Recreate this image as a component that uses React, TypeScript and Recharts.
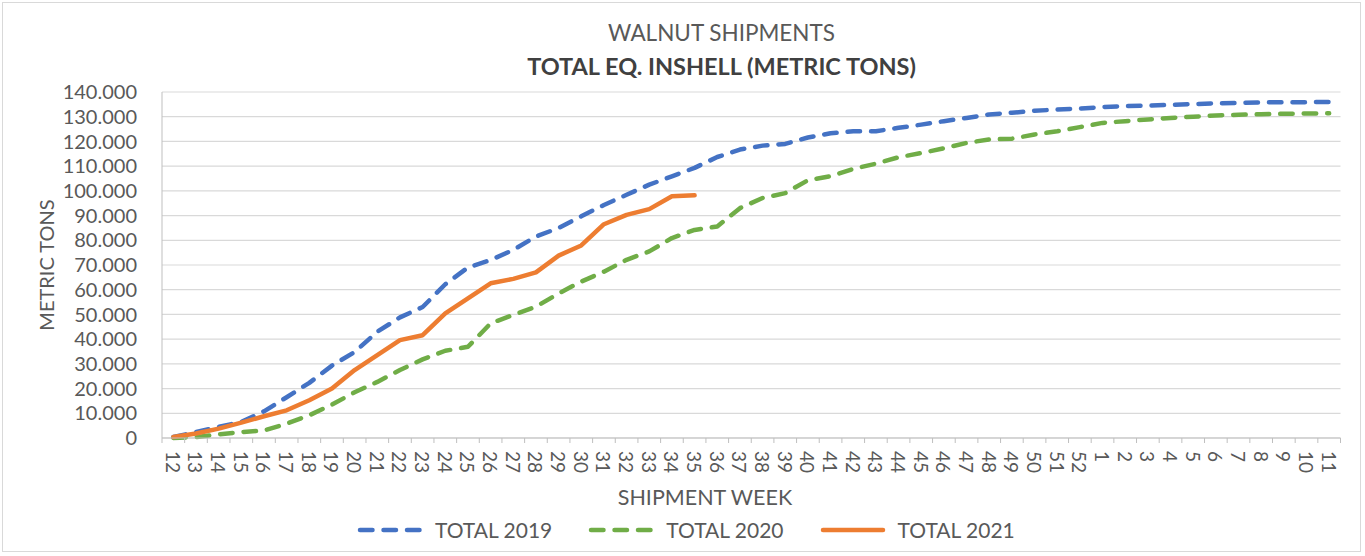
import React from 'react'
import { LineChart, Line, XAxis, YAxis, CartesianGrid } from 'recharts'

const weeks = [
  '12', '13', '14', '15', '16', '17', '18', '19', '20', '21', '22', '23', '24', '25', '26', '27', '28', '29', '30', '31',
  '32', '33', '34', '35', '36', '37', '38', '39', '40', '41', '42', '43', '44', '45', '46', '47', '48', '49', '50', '51',
  '52', '1', '2', '3', '4', '5', '6', '7', '8', '9', '10', '11',
]

const total2019 = [
  400, 2400, 4500, 6500, 10800, 16500, 22300, 29300, 34800, 43000, 48800, 53000, 62200, 69000, 72000, 76100, 81500, 85000, 89700, 94300,
  98400, 102500, 105900, 109300, 113700, 116700, 118300, 119000, 121600, 123300, 124100, 124100, 125500, 126800, 128200, 129500, 130900, 131600, 132400, 132900,
  133300, 133900, 134300, 134500, 134800, 135100, 135400, 135600, 135800, 135900, 135900, 136000,
]

const total2020 = [
  0, 400, 1500, 2400, 3000, 5800, 9200, 13500, 18500, 22700, 27500, 31800, 35300, 36900, 46400, 49800, 53100, 58500, 63300, 67300,
  72100, 75500, 80900, 84200, 85600, 93000, 97100, 99100, 104300, 105900, 108900, 111000, 113600, 115300, 117200, 119400, 120800, 121100, 122800, 124100,
  125800, 127500, 128200, 128900, 129500, 130000, 130500, 130800, 131000, 131200, 131300, 131400,
]

const total2021 = [
  400, 1800, 3800, 6200, 8800, 11200, 15300, 20000, 27500, 33500, 39600, 41600, 50400, 56500, 62600, 64400, 67000, 73800, 77900, 86500,
  90300, 92600, 97800, 98200,
]

const yTicks = [0, 10000, 20000, 30000, 40000, 50000, 60000, 70000, 80000, 90000, 100000, 110000, 120000, 130000, 140000]

const series = [
  { key: 'y2019', name: 'TOTAL 2019', color: '#4472C4', dashed: true },
  { key: 'y2020', name: 'TOTAL 2020', color: '#70AD47', dashed: true },
  { key: 'y2021', name: 'TOTAL 2021', color: '#ED7D31', dashed: false },
]

const data = weeks.map((w, i) => ({
  week: w,
  y2019: total2019[i],
  y2020: total2020[i],
  y2021: i < total2021.length ? total2021[i] : null,
}))

const FONT = 'Lato, "Open Sans", sans-serif'
const TEXT = '#595959'
const BAND = (1340.5 - 162) / weeks.length

const fmt = (v: number) => (v === 0 ? '0' : v.toLocaleString('de-DE'))

const XTick = (props: any) => {
  const { x, y, payload, index } = props
  return (
    <g>
      <line x1={x - BAND / 2} y1={y} x2={x - BAND / 2} y2={y + 5} stroke="#BFBFBF" />
      {index === weeks.length - 1 && (
        <line x1={x + BAND / 2} y1={y} x2={x + BAND / 2} y2={y + 5} stroke="#BFBFBF" />
      )}
      <text
        x={x}
        y={y + 13}
        transform={`rotate(90, ${x}, ${y + 13})`}
        textAnchor="start"
        dominantBaseline="central"
        fontFamily={FONT}
        fontSize={19}
        fill={TEXT}
      >
        {payload.value}
      </text>
    </g>
  )
}

const YTick = (props: any) => {
  const { x, y, payload } = props
  return (
    <text x={x} y={y} dy="0.36em" textAnchor="end" fontFamily={FONT} fontSize={20} fill={TEXT}>
      {fmt(payload.value)}
    </text>
  )
}

function LegendSample({ color, dashed }: { color: string; dashed: boolean }) {
  return (
    <svg width={66} height={10} style={{ display: 'block' }}>
      <line
        x1={3}
        y1={5}
        x2={63}
        y2={5}
        stroke={color}
        strokeWidth={4.5}
        strokeLinecap="round"
        strokeDasharray={dashed ? '12.5 11' : undefined}
      />
    </svg>
  )
}

export default function App() {
  return (
    <div style={{ position: 'absolute', left: 0, top: 0, width: 1365, height: 556, background: '#fff', fontFamily: FONT }}>
      <div
        style={{
          position: 'absolute', left: 2, top: 2, width: 1359, height: 550,
          border: '1px solid #D9D9D9', boxSizing: 'border-box',
        }}
      />
      <div style={{ position: 'absolute', left: 0, width: 1443, top: 18, textAlign: 'center', fontSize: 22.5, color: TEXT, lineHeight: '30px' }}>
        WALNUT SHIPMENTS
      </div>
      <div style={{ position: 'absolute', left: 0, width: 1443, top: 51, textAlign: 'center', fontSize: 23.5, fontWeight: 700, color: '#404040', lineHeight: '30px' }}>
        TOTAL EQ. INSHELL (METRIC TONS)
      </div>

      <LineChart width={1365} height={556} data={data} margin={{ top: 92, right: 24.5, bottom: 0, left: 0 }}>
        <CartesianGrid vertical={false} stroke="#D9D9D9" strokeWidth={1.2} />
        <XAxis
          dataKey="week"
          interval={0}
          padding={{ left: BAND / 2, right: BAND / 2 }}
          stroke="#BFBFBF"
          tickLine={false}
          tickSize={0}
          tickMargin={0}
          tick={<XTick />}
          height={118}
        />
        <YAxis
          domain={[0, 140000]}
          ticks={yTicks}
          interval={0}
          width={162}
          stroke="#BFBFBF"
          tickLine={false}
          tickSize={0}
          tickMargin={25}
          tick={<YTick />}
        />
        {series.map((s) => (
          <Line
            key={s.key}
            dataKey={s.key}
            name={s.name}
            type="linear"
            stroke={s.color}
            strokeWidth={4.5}
            strokeDasharray={s.dashed ? '12.5 11' : undefined}
            strokeLinecap="round"
            strokeLinejoin="round"
            dot={false}
            activeDot={false}
            isAnimationActive={false}
          />
        ))}
      </LineChart>

      <div
        style={{
          position: 'absolute', left: 46, top: 265, transform: 'translate(-50%, -50%) rotate(-90deg)',
          fontSize: 20, color: TEXT, whiteSpace: 'nowrap', lineHeight: '24px',
        }}
      >
        METRIC TONS
      </div>
      <div style={{ position: 'absolute', left: 0, width: 1410, top: 482, textAlign: 'center', fontSize: 21.5, color: TEXT, lineHeight: '30px' }}>
        SHIPMENT WEEK
      </div>
      <div
        style={{
          position: 'absolute', left: 357, top: 515, display: 'flex', alignItems: 'center',
          fontSize: 21, color: TEXT, lineHeight: '30px',
        }}
      >
        {series.map((s) => (
          <div key={s.key} style={{ display: 'flex', alignItems: 'center', marginRight: 36 }}>
            <LegendSample color={s.color} dashed={s.dashed} />
            <span style={{ marginLeft: 12 }}>{s.name}</span>
          </div>
        ))}
      </div>
    </div>
  )
}
